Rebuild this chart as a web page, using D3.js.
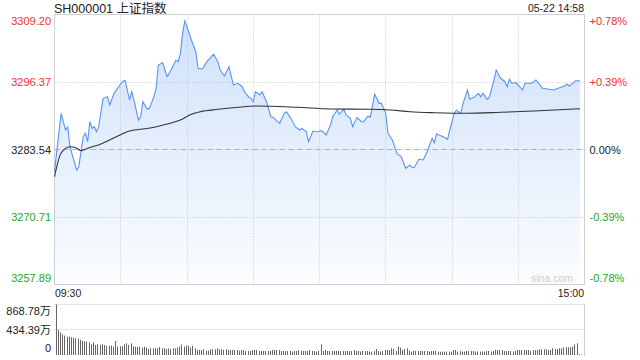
<!DOCTYPE html>
<html>
<head lang="zh">
  <meta charset="UTF-8">
<title>SH000001 上证指数</title>
<style>
body { margin: 0; background: #fff; }
.lbl {
    font-family: Arial, "Liberation Sans", "Noto Sans CJK SC", sans-serif;
    font-size: 11px;
}
</style>
<script src="https://cdn.jsdelivr.net/npm/d3@7/dist/d3.min.js" charset="utf-8"></script>
</head>
<body>
<div id="vis"></div>

<script>

// minute index from 09:30 (0) to 15:00 (240), lunch break removed
var mins = [0,3,5,6,7,10,11,13,14,15,16,17,18,19,20,22,24,25,27,28,31,32,34,35,36,38,39,40,42,43,45,46,47,49,50,51,53,55,56,57,58,59,61,62,64,65,67,69,72,74,75,77,79,81,83,85,86,88,89,90,91,93,94,96,98,99,101,102,104,105,107,109,111,112,114,115,116,117,119,121,123,125,126,128,129,131,132,134,135,137,139,140,142,143,145,147,148,150,151,153,154,155,157,159,161,162,163,165,167,169,171,172,173,176,178,179,181,182,184,185,187,188,190,192,193,194,196,197,199,200,202,204,205,206,207,209,210,212,213,216,218,219,221,224,226,228,231,232,233,235,236,238];
var price = [3279.33,3290.42,3287.25,3287.82,3284.08,3279.65,3280.28,3285.98,3286.62,3285.03,3288.83,3287.57,3287.88,3286.93,3287.88,3293.27,3293.58,3292.00,3294.22,3294.85,3296.56,3296.62,3292.95,3294.53,3292.95,3289.15,3289.78,3292.63,3291.18,3291.37,3293.58,3295.17,3299.60,3300.04,3298.65,3297.38,3298.79,3300.55,3300.23,3301.83,3305.63,3308.00,3305.63,3304.35,3302.13,3298.98,3298.84,3300.23,3301.64,3300.23,3298.65,3297.51,3299.28,3295.80,3296.13,3295.48,3294.53,3293.46,3293.27,3292.63,3294.53,3293.90,3294.53,3292.63,3289.78,3289.66,3288.83,3288.52,3290.42,3290.73,3289.47,3287.88,3287.25,3287.57,3286.93,3285.03,3285.98,3287.06,3286.93,3287.12,3286.30,3288.20,3289.78,3291.05,3290.23,3291.18,3290.10,3289.47,3287.88,3289.66,3288.83,3288.83,3289.91,3289.66,3294.03,3292.32,3292.32,3290.42,3286.62,3285.35,3284.08,3282.82,3282.18,3279.97,3280.60,3280.09,3280.16,3281.68,3281.55,3283.45,3285.67,3284.84,3286.49,3285.98,3285.48,3287.25,3290.42,3291.05,3290.42,3292.32,3294.85,3293.08,3293.46,3294.22,3293.58,3294.22,3293.08,3293.58,3296.75,3298.65,3297.08,3296.43,3295.48,3296.89,3296.13,3296.24,3295.80,3294.85,3296.13,3296.13,3296.75,3296.24,3295.17,3294.98,3294.85,3295.17,3295.61,3295.99,3295.61,3296.24,3296.62,3296.62];

// average price line
var avgMins = [0,3,7,10,12,15,21,28,34,39,45,51,57,62,66,74,83,92,110,125,143,152,161,172,187,202,217,238];
var avgPrice = [3278.38,3282.88,3284.08,3283.83,3283.32,3283.77,3284.59,3285.98,3287.06,3287.38,3287.76,3288.39,3289.15,3290.23,3290.73,3291.18,3291.56,3291.81,3291.56,3291.24,3291.18,3291.05,3290.73,3290.54,3290.42,3290.61,3290.86,3291.30];

// volume per minute, 万
var volume = [868.78,432,392,357,334,317,317,305,299,288,
  282,259,242,236,230,219,184,219,173,184,
  173,184,173,155,161,161,144,242,144,150,
  150,184,201,173,201,150,144,138,144,127,
  144,127,104,115,115,115,115,138,115,115,
  104,115,104,115,115,127,144,184,144,161,
  161,127,161,115,86,86,86,98,75,75,
  98,98,98,115,98,98,86,98,86,
  86,86,86,86,75,86,86,69,69,69,
  86,86,86,69,69,69,69,69,69,86,
  86,86,86,69,69,69,69,69,58,69,
  69,86,69,69,69,69,86,69,69,58,
  69,184,69,86,69,69,69,69,69,69,
  69,69,69,69,69,69,86,69,69,58,
  69,69,69,58,58,69,104,69,58,69,
  86,86,86,115,104,69,144,127,86,104,
  115,
  75,58,75,69,69,69,69,69,69,58,
  69,69,69,58,58,58,58,58,58,58,
  86,86,58,69,58,58,69,69,69,69,
  58,58,58,58,58,69,69,58,69,86,
  86,86,86,69,69,69,69,58,69,86,
  86,86,86,86,86,69,86,86,86,98,
  98,98,98,86,86,115,104,104,115,115,
  133,133,133,133,144,184,201,12,12];

var prevClose = 3283.54;
var priceTicks = [3309.20, 3296.37, 3283.54, 3270.71, 3257.89];
var pctTicks = ["+0.78%", "+0.39%", "0.00%", "-0.39%", "-0.78%"];
var volTicks = [868.78, 434.39, 0];
var volTickLabels = ["868.78万", "434.39万", "0"];
var timeTicks = [30, 60, 90, 120, 150, 180, 210];

var red = "#f2302c", green = "#20a820", dark = "#222";

var svg = d3.select("#vis").append("svg")
  .attr("width", 640)
  .attr("height", 360);

// note: "top" is taken by window.top, so prefixed names
var pLeft = 54.5, pRight = 584.5, pTop = 14.5, pBottom = 284.5;
var vTop = 304.5, vBottom = 355;

var x = d3.scaleLinear().domain([0, 240]).range([pLeft, pRight]);
var y = d3.scaleLinear().domain([priceTicks[4], priceTicks[0]]).range([pBottom, pTop]);
var yv = d3.scaleLinear().domain([0, volTicks[0]]).range([vBottom, vTop]);

// gradient under the price line
var grad = svg.append("defs").append("linearGradient")
  .attr("id", "fill")
  .attr("gradientUnits", "userSpaceOnUse")
  .attr("x1", 0).attr("x2", 0).attr("y1", pTop).attr("y2", pBottom);
grad.append("stop").attr("offset", "0%").attr("stop-color", "#cfe0fa");
grad.append("stop").attr("offset", "100%").attr("stop-color", "#fbfdff");

var pts = mins.map(function(m, i) { return [m, price[i]]; });

svg.append("path")
  .datum(pts)
  .attr("fill", "url(#fill)")
  .attr("d", d3.area()
    .x(function(d) { return x(d[0]); })
    .y0(pBottom)
    .y1(function(d) { return y(d[1]); }));

// grid
function px(v) { return Math.round(v - 0.5) + 0.5; }

svg.selectAll(".vgrid")
  .data(timeTicks)
  .enter().append("line")
  .attr("x1", function(d) { return px(x(d)); })
  .attr("x2", function(d) { return px(x(d)); })
  .attr("y1", pTop).attr("y2", pBottom)
  .attr("stroke", "#c4c4c4")
  .attr("stroke-dasharray", "1,2");

svg.selectAll(".hgrid")
  .data(priceTicks.slice(1, 4))
  .enter().append("line")
  .attr("x1", pLeft).attr("x2", pRight)
  .attr("y1", function(d) { return px(y(d)); })
  .attr("y2", function(d) { return px(y(d)); })
  .attr("stroke", "#c4c4c4")
  .attr("stroke-dasharray", "1,2");

// previous close
svg.append("line")
  .attr("x1", pLeft).attr("x2", pRight)
  .attr("y1", px(y(prevClose))).attr("y2", px(y(prevClose)))
  .attr("stroke", "#eb9a78")
  .attr("stroke-dasharray", "5,4");

svg.append("rect")
  .attr("x", pLeft).attr("y", pTop)
  .attr("width", pRight - pLeft).attr("height", pBottom - pTop)
  .attr("fill", "none")
  .attr("stroke", "#cfcfcf");

svg.append("path")
  .datum(pts)
  .attr("fill", "none")
  .attr("stroke", "#5b93f3")
  .attr("stroke-width", 1.1)
  .attr("d", d3.line()
    .x(function(d) { return x(d[0]); })
    .y(function(d) { return y(d[1]); }));

svg.append("path")
  .datum(avgMins.map(function(m, i) { return [m, avgPrice[i]]; }))
  .attr("fill", "none")
  .attr("stroke", "#333")
  .attr("stroke-width", 1.1)
  .attr("d", d3.line()
    .curve(d3.curveMonotoneX)
    .x(function(d) { return x(d[0]); })
    .y(function(d) { return y(d[1]); }));

svg.append("text")
  .attr("class", "lbl")
  .attr("x", 573).attr("y", 282)
  .attr("text-anchor", "end")
  .attr("fill", "#cdcdcd")
  .style("font-size", "10.5px")
  .text("sina.com");

// y labels
function tickColor(i) { return i < 2 ? red : (i == 2 ? dark : green); }
function tickY(v, i) {
  if (i == 0) return y(v) + 10;
  if (i == 4) return y(v) - 3;
  return y(v) + 4;
}

svg.selectAll(".pl")
  .data(priceTicks)
  .enter().append("text")
  .attr("class", "lbl")
  .attr("x", 51)
  .attr("y", tickY)
  .attr("text-anchor", "end")
  .attr("fill", function(d, i) { return tickColor(i); })
  .text(function(d) { return d.toFixed(2); });

svg.selectAll(".pr")
  .data(pctTicks)
  .enter().append("text")
  .attr("class", "lbl")
  .attr("x", 589.5)
  .attr("y", function(d, i) { return tickY(priceTicks[i], i); })
  .attr("fill", function(d, i) { return tickColor(i); })
  .text(function(d) { return d; });

// header
svg.append("text")
  .attr("class", "lbl")
  .attr("x", 54).attr("y", 12.5)
  .attr("fill", dark)
  .style("font-size", "12.5px")
  .text("SH000001 上证指数");

svg.append("text")
  .attr("class", "lbl")
  .attr("x", 584).attr("y", 11.5)
  .attr("text-anchor", "end")
  .attr("fill", dark)
  .style("font-size", "10.5px")
  .text("05-22 14:58");

// time labels
svg.append("text")
  .attr("class", "lbl")
  .attr("x", 55).attr("y", 297)
  .attr("fill", dark)
  .style("font-size", "10.5px")
  .text("09:30");

svg.append("text")
  .attr("class", "lbl")
  .attr("x", 584).attr("y", 297)
  .attr("text-anchor", "end")
  .attr("fill", dark)
  .style("font-size", "10.5px")
  .text("15:00");

// volume panel
svg.selectAll(".vg")
  .data(volTicks.slice(0, 2))
  .enter().append("line")
  .attr("x1", pLeft).attr("x2", pRight)
  .attr("y1", function(d) { return px(yv(d)); })
  .attr("y2", function(d) { return px(yv(d)); })
  .attr("stroke", "#c8c8c8")
  .attr("stroke-dasharray", "1,1");

svg.append("line")
  .attr("x1", pRight).attr("x2", pRight)
  .attr("y1", vTop).attr("y2", vBottom + 1)
  .attr("stroke", "#cfcfcf");

svg.selectAll(".bar")
  .data(volume)
  .enter().append("rect")
  .attr("x", function(d, i) { return Math.round(x(i)) + 1; })
  .attr("width", 1)
  .attr("y", function(d) { return yv(d); })
  .attr("height", function(d) { return vBottom - yv(d); })
  .attr("fill", "#666");

svg.selectAll(".vl")
  .data(volTickLabels)
  .enter().append("text")
  .attr("class", "lbl")
  .attr("x", 51)
  .attr("y", function(d, i) {
    if (i == 0) return yv(volTicks[i]) + 10.5;
    if (i == 2) return yv(volTicks[i]) - 3;
    return yv(volTicks[i]) + 4;
  })
  .attr("text-anchor", "end")
  .attr("fill", dark)
  .text(function(d) { return d; });

</script>
</body>
</html>
